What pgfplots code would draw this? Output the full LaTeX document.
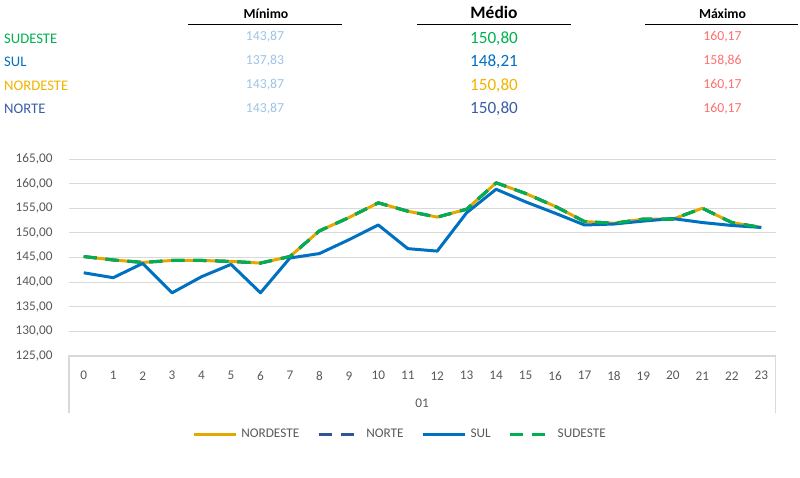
\documentclass[border=0pt]{standalone}
\usepackage{fontspec}
\setmainfont{Carlito}
\usepackage{pgfplots}
\pgfplotsset{compat=1.18}

\definecolor{nordeste}{HTML}{E2AA00}
\definecolor{nordestetxt}{HTML}{F0B400}
\definecolor{norte}{HTML}{2F5597}
\definecolor{nortetxt}{HTML}{3B5DA5}
\definecolor{sul}{HTML}{0070C0}
\definecolor{sudeste}{HTML}{00B050}
\definecolor{minval}{HTML}{9DC3E6}
\definecolor{maxval}{HTML}{FF6F6F}
\definecolor{gridc}{HTML}{D9D9D9}
\definecolor{txt}{HTML}{595959}

\newcommand{\fs}[1]{\fontsize{#1}{#1}\selectfont}

\begin{document}
\begin{tikzpicture}
\path[use as bounding box] (0,0) rectangle (800bp,478bp);

% --- summary table above the chart
\begin{scope}[every node/.style={inner sep=0pt, anchor=base}]
\node[font=\fs{13.8}\bfseries] at (266bp,459.7bp) {Mínimo};
\node[font=\fs{17.5}\bfseries] at (494bp,459bp) {Médio};
\node[font=\fs{13.8}\bfseries] at (722.5bp,459.7bp) {Máximo};
\draw[line width=1.2bp] (188bp,453.7bp) -- (342bp,453.7bp);
\draw[line width=1.2bp] (417bp,453.7bp) -- (571bp,453.7bp);
\draw[line width=1.2bp] (645bp,453.7bp) -- (798bp,453.7bp);
% region names
\node[anchor=base west, font=\fs{14.7}, text=sudeste] at (4bp,434.7bp) {SUDESTE};
\node[anchor=base west, font=\fs{14.7}, text=sul] at (4bp,411.3bp) {SUL};
\node[anchor=base west, font=\fs{14.7}, text=nordestetxt] at (4bp,387.3bp) {NORDESTE};
\node[anchor=base west, font=\fs{14.7}, text=nortetxt] at (4bp,364bp) {NORTE};
% minimum
\node[font=\fs{13.8}, text=minval] at (265bp,437.3bp) {143,87};
\node[font=\fs{13.8}, text=minval] at (265bp,413bp) {137,83};
\node[font=\fs{13.8}, text=minval] at (265bp,389.7bp) {143,87};
\node[font=\fs{13.8}, text=minval] at (265bp,365.7bp) {143,87};
% mean
\node[font=\fs{17.2}, text=sudeste] at (494bp,434.7bp) {150,80};
\node[font=\fs{17.2}, text=sul] at (494bp,411.3bp) {148,21};
\node[font=\fs{17.2}, text=nordestetxt] at (494bp,387.3bp) {150,80};
\node[font=\fs{17.2}, text=nortetxt] at (494bp,364bp) {150,80};
% maximum
\node[font=\fs{13.8}, text=maxval] at (722.5bp,437.3bp) {160,17};
\node[font=\fs{13.8}, text=maxval] at (722.5bp,413bp) {158,86};
\node[font=\fs{13.8}, text=maxval] at (722.5bp,389.7bp) {160,17};
\node[font=\fs{13.8}, text=maxval] at (722.5bp,365.7bp) {160,17};
\end{scope}

\begin{axis}[
  at={(69bp,122bp)}, anchor=south west,
  width=707bp, height=197bp, scale only axis,
  xmin=-0.5, xmax=23.5, ymin=125, ymax=165,
  xtick={0,...,23}, ytick={125,130,...,165},
  /pgf/number format/assume math mode=true,
  axis line style={draw=none},
  major tick length=0pt,
  ymajorgrids, grid style={gridc, line width=1bp},
  tick label style={font=\fs{13.3}, text=txt},
  xticklabel style={anchor=center, yshift=-19.7bp},
  yticklabel style={anchor=east, inner sep=0pt, xshift=-16.3bp,
    /pgf/number format/.cd, fixed, fixed zerofill, precision=2, use comma},
  every axis plot/.append style={line width=3bp, line join=round},
  legend columns=4,
  legend image code/.code={\draw[#1] (0bp,0bp) -- (42bp,0bp);},
  legend style={at={(0.4668,-0.396)}, anchor=center, draw=none, fill=none,
    font=\fs{13.3}, text=txt, inner sep=0pt,
    /tikz/every odd column/.append style={column sep=4bp},
    /tikz/every even column/.append style={column sep=18bp},
    nodes={inner sep=0pt}},
]
\addplot[nordeste] coordinates {
 (0,145.2) (1,144.5) (2,144.0) (3,144.4) (4,144.4) (5,144.2) (6,143.87) (7,145.2)
 (8,150.4) (9,153.1) (10,156.1) (11,154.4) (12,153.2) (13,154.8) (14,160.17) (15,158.0)
 (16,155.4) (17,152.3) (18,151.95) (19,152.8) (20,152.8) (21,155.0) (22,152.1) (23,151.1)};
\addlegendentry{NORDESTE}
\addplot[norte, dash pattern=on 13bp off 9bp] coordinates {
 (0,145.2) (1,144.5) (2,144.0) (3,144.4) (4,144.4) (5,144.2) (6,143.87) (7,145.2)
 (8,150.4) (9,153.1) (10,156.1) (11,154.4) (12,153.2) (13,154.8) (14,160.17) (15,158.0)
 (16,155.4) (17,152.3) (18,151.95) (19,152.8) (20,152.8) (21,155.0) (22,152.1) (23,151.1)};
\addlegendentry{NORTE}
\addplot[sul] coordinates {
 (0,141.9) (1,140.9) (2,143.8) (3,137.83) (4,141.1) (5,143.6) (6,137.83) (7,144.9)
 (8,145.8) (9,148.6) (10,151.6) (11,146.8) (12,146.3) (13,154.1) (14,158.86) (15,156.3)
 (16,154.0) (17,151.6) (18,151.8) (19,152.4) (20,152.9) (21,152.1) (22,151.5) (23,151.1)};
\addlegendentry{SUL}
\addplot[sudeste, dash pattern=on 13bp off 9bp] coordinates {
 (0,145.2) (1,144.5) (2,144.0) (3,144.4) (4,144.4) (5,144.2) (6,143.87) (7,145.2)
 (8,150.4) (9,153.1) (10,156.1) (11,154.4) (12,153.2) (13,154.8) (14,160.17) (15,158.0)
 (16,155.4) (17,152.3) (18,151.95) (19,152.8) (20,152.8) (21,155.0) (22,152.1) (23,151.1)};
\addlegendentry{SUDESTE}
\end{axis}

% category axis box and group label
\draw[gridc, line width=1.2bp] (69bp,65.3bp) -- (69bp,122bp) -- (775.5bp,122bp) -- (775.5bp,65.3bp);
\node[font=\fs{13.3}, text=txt] at (422bp,75bp) {01};
\end{tikzpicture}
\end{document}
